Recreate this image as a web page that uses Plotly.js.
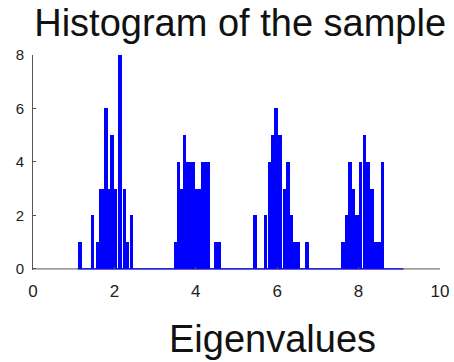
<!DOCTYPE html>
<html>
<head>
<meta charset="utf-8">
<script src="https://cdn.plot.ly/plotly-3.0.1.min.js"></script>
<style>
  html, body { margin: 0; padding: 0; background: #fff; }
  #chart { width: 454px; height: 362px; }
</style>
</head>
<body>
<div id="chart"></div>
<script>
// Bin centres (eigenvalue) and counts
const binCenters = [
  1.155, 1.457, 1.585, 1.658, 1.720, 1.794, 1.867, 1.941, 2.027, 2.138, 2.248, 2.322, 2.420,
  3.501, 3.575, 3.649, 3.722, 3.796, 3.875, 3.948, 4.022, 4.096, 4.170, 4.243, 4.317, 4.496, 4.582,
  5.455, 5.713, 5.811, 5.897, 5.971, 6.069, 6.179, 6.265, 6.351, 6.437, 6.523, 6.732,
  7.617, 7.703, 7.789, 7.875, 7.961, 8.047, 8.145, 8.231, 8.329, 8.428, 8.501, 8.587
];
const binCounts = [
  1, 2, 1, 3, 3, 6, 3, 5, 3, 8, 3, 1, 2,
  1, 4, 3, 5, 4, 4, 4, 3, 3, 4, 4, 4, 1, 1,
  2, 2, 4, 5, 6, 5, 3, 4, 2, 1, 1, 1,
  1, 2, 4, 3, 2, 4, 5, 4, 3, 1, 1, 4
];
const binWidth = 0.075;
const binRange = [1.1, 9.1];          // extent of the histogram baseline
const axisRange = [0, 10];
const baselineZero = [0, 0];
const xTicks = [0, 2, 4, 6, 8, 10];
const yTicks = [0, 2, 4, 6, 8];

const blue = '#0000ff';
const axisColor = '#555555';
const fontFam = '"Liberation Sans", Arial, Helvetica, sans-serif';

const traces = [
  {
    type: 'scatter', mode: 'lines',
    x: axisRange, y: baselineZero,
    line: { color: axisColor, width: 1 },
    hoverinfo: 'skip', showlegend: false
  },
  {
    type: 'bar',
    x: binCenters, y: binCounts,
    width: binWidth,
    marker: { color: blue, line: { width: 0 } },
    showlegend: false
  },
  {
    type: 'scatter', mode: 'lines',
    x: binRange, y: baselineZero,
    line: { color: blue, width: 1.2 },
    hoverinfo: 'skip', showlegend: false
  }
];

const layout = {
  width: 454, height: 362,
  margin: { l: 33, r: 14, t: 55, b: 92, pad: 0 },
  paper_bgcolor: '#ffffff',
  plot_bgcolor: '#ffffff',
  font: { family: fontFam, color: '#222222' },
  showlegend: false,
  bargap: 0,
  title: {
    text: 'Histogram of the sample',
    font: { family: fontFam, size: 38, color: '#111111' },
    xref: 'paper', x: 0.509, xanchor: 'center',
    yref: 'container', y: 0.936, yanchor: 'middle'
  },
  xaxis: {
    range: axisRange,
    tickvals: xTicks,
    ticktext: xTicks.map(String),
    ticks: 'inside', ticklen: 3, tickcolor: axisColor, tickwidth: 1,
    showline: false,
    showgrid: false, zeroline: false,
    ticklabelstandoff: 9,
    tickfont: { family: fontFam, size: 17, color: '#222222' },
    fixedrange: true
  },
  yaxis: {
    range: [-0.04, 8],
    tickvals: yTicks,
    ticktext: yTicks.map(String),
    ticks: 'inside', ticklen: 3, tickcolor: axisColor, tickwidth: 1,
    showline: true, linecolor: axisColor, linewidth: 1,
    showgrid: false, zeroline: false,
    layer: 'below traces',
    ticklabelstandoff: 5,
    tickfont: { family: fontFam, size: 15, color: '#222222' },
    fixedrange: true
  },
  annotations: [
    {
      text: 'Eigenvalues',
      xref: 'paper', yref: 'paper',
      x: 0.588, y: -0.321,
      xanchor: 'center', yanchor: 'middle',
      showarrow: false,
      font: { family: fontFam, size: 38, color: '#111111' }
    }
  ]
};

Plotly.newPlot('chart', traces, layout, { staticPlot: true, displayModeBar: false });
</script>
</body>
</html>
